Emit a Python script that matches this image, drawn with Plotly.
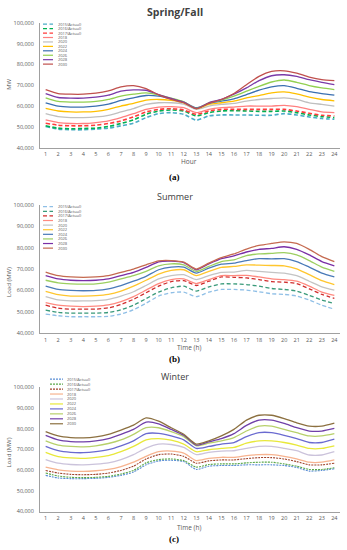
import plotly.graph_objects as go

W, H = 347, 550
hours = list(range(1, 25))
series_names = ["2015(Actual)", "2016(Actual)", "2017(Actual)", "2018", "2020",
                "2022", "2024", "2026", "2028", "2030"]

# ---------------- Spring/Fall ----------------
sf_2015 = [50260, 49000, 48680, 48680, 49000, 49470, 50580, 51840, 54520, 56420, 56900, 56100,
           53260, 55320, 55790, 55790, 55790, 55630, 55630, 56420, 55790, 54840, 54050, 53740]
sf_2016 = [50580, 49470, 49160, 49310, 49470, 50260, 51680, 53420, 56100, 57680, 58160, 57680,
           55320, 56890, 57680, 57840, 57680, 57520, 57520, 57680, 56890, 55790, 55000, 54520]
sf_2017 = [51840, 50890, 50580, 50580, 50890, 51680, 52940, 54840, 57210, 58470, 58790, 58160,
           56100, 57680, 58470, 58470, 58470, 58470, 58470, 58470, 57680, 56580, 55630, 55320]
sf_2018 = [53420, 52150, 51680, 51680, 52150, 52940, 54520, 56420, 58470, 59580, 59740, 59260,
           56890, 58470, 59260, 59580, 60050, 60050, 60050, 60370, 59740, 58470, 57210, 56890]
sf_2020 = [56420, 55000, 54520, 54520, 54840, 55630, 57210, 58790, 60840, 61630, 61630, 61000,
           58470, 60050, 60840, 61310, 62420, 63200, 63680, 64000, 63200, 61630, 60840, 60050]
sf_2022 = [58950, 57680, 57210, 57210, 57520, 58470, 60050, 61310, 62890, 63200, 62730, 61630,
           58790, 60840, 61630, 62420, 64000, 65100, 66370, 66840, 65900, 64310, 63200, 62580]
sf_2024 = [61630, 60050, 59580, 59580, 60050, 61000, 62740, 64000, 65100, 64790, 63520, 61940,
           59260, 61310, 62420, 63520, 65580, 67630, 69210, 69840, 68580, 67000, 66050, 65260]
sf_2026 = [64000, 62260, 61950, 61950, 62260, 63200, 64790, 65740, 66370, 65420, 63840, 62100,
           58950, 61630, 62890, 64790, 67160, 69530, 71580, 72530, 71420, 69840, 68740, 67950]
sf_2028 = [66050, 64150, 63840, 63840, 64310, 65260, 67160, 67790, 67630, 65580, 63680, 61940,
           58790, 61630, 63200, 65740, 68740, 72210, 74580, 75050, 74260, 72680, 71420, 70300]
sf_2030 = [67950, 66050, 65740, 65740, 66200, 67300, 69200, 69850, 68420, 65420, 63200, 61630,
           58790, 61310, 63200, 66050, 70300, 74260, 76630, 76950, 75840, 73950, 72680, 72210]

# ---------------- Summer ----------------
su_2015 = [48920, 48150, 47690, 47690, 47690, 47850, 48920, 50920, 54000, 57380, 58920, 59230,
           57080, 59230, 60460, 60460, 60150, 59380, 58460, 58150, 57380, 55540, 53080, 51230]
su_2016 = [50770, 49690, 49380, 49380, 49380, 49690, 50920, 53080, 56150, 59230, 61230, 62000,
           59690, 61690, 63080, 63080, 62770, 62000, 60920, 60460, 59690, 57690, 55540, 53850]
su_2017 = [53080, 51690, 51230, 51230, 51230, 51850, 53380, 55850, 58920, 62000, 64150, 64620,
           62310, 64310, 66310, 66150, 65850, 65080, 64150, 63850, 63230, 60770, 58150, 56310]
su_2018 = [54310, 53080, 52620, 52460, 52620, 53230, 54770, 57080, 60150, 63230, 65080, 65380,
           63230, 65080, 66920, 66920, 67080, 66310, 65380, 65080, 64310, 62000, 59230, 57690]
su_2020 = [57080, 55540, 55080, 55080, 55230, 55850, 57380, 59380, 62310, 65380, 66920, 67380,
           65080, 66920, 68460, 68620, 69380, 68920, 68460, 68150, 66920, 64310, 61690, 60150]
su_2022 = [59540, 58000, 57380, 57380, 57540, 58150, 59690, 62000, 64770, 67690, 69380, 69690,
           66920, 68920, 70770, 71230, 72000, 71850, 71690, 71540, 70150, 67380, 64620, 62770]
su_2024 = [62000, 60460, 60000, 59850, 60000, 60770, 62310, 64310, 66620, 69690, 70920, 70920,
           68150, 70460, 72310, 72770, 74000, 74920, 74770, 74920, 73540, 70920, 68150, 66310]
su_2026 = [64770, 63540, 63080, 62920, 63080, 63850, 65380, 66920, 68920, 71540, 72460, 72000,
           68920, 71230, 73540, 74310, 76310, 77080, 77380, 77690, 76620, 74000, 70920, 68920]
su_2028 = [66920, 65380, 64770, 64620, 64770, 65380, 66920, 68460, 70770, 73380, 73690, 73080,
           69690, 72460, 74920, 76150, 78000, 79230, 79690, 80460, 79230, 76620, 73540, 71540]
su_2030 = [68620, 66920, 66310, 66150, 66310, 66920, 68460, 70000, 72000, 73850, 74000, 73230,
           70000, 72770, 75380, 77080, 79380, 81080, 82000, 82770, 82000, 79230, 75850, 73540]

# ---------------- Winter ----------------
wi_2015 = [57470, 56200, 55880, 55880, 56040, 56520, 57470, 59060, 62550, 64450, 64770, 64130,
           60330, 61910, 62230, 62230, 62550, 62550, 62550, 62230, 61280, 59530, 59850, 60640]
wi_2016 = [58580, 57150, 56520, 56360, 56520, 56990, 58100, 59850, 63500, 65090, 65400, 64610,
           61440, 62710, 63020, 63020, 63500, 63820, 63820, 63020, 61910, 60330, 60330, 61120]
wi_2017 = [59850, 58580, 57950, 57790, 57950, 58580, 59850, 61910, 65400, 67470, 67780, 66670,
           63340, 64450, 64930, 64930, 65560, 66040, 66040, 65400, 64130, 62550, 62550, 63340]
wi_2018 = [61440, 60170, 59530, 59370, 59690, 60330, 61750, 63820, 66670, 68890, 69210, 68260,
           64610, 65720, 66200, 66200, 66990, 67470, 67470, 66670, 65400, 63820, 63820, 64930]
wi_2020 = [65090, 63340, 62710, 62550, 62870, 63500, 65090, 67470, 70640, 72550, 72390, 70960,
           67470, 68580, 69210, 69370, 70480, 71430, 71430, 70480, 69370, 67310, 67310, 68890]
wi_2022 = [68580, 66510, 65880, 65720, 66200, 66990, 68890, 71430, 74610, 75240, 74450, 72540,
           68890, 69850, 70480, 70960, 73020, 74130, 74130, 73340, 72070, 70480, 70480, 71750]
wi_2024 = [71430, 69370, 68580, 68420, 68890, 69850, 71750, 74130, 77620, 77780, 76510, 74610,
           70480, 71430, 72540, 73340, 76190, 78100, 78100, 76830, 75240, 73340, 73340, 74930]
wi_2026 = [74130, 72070, 71430, 71270, 71750, 72860, 74610, 77310, 80480, 80480, 78580, 76190,
           71750, 73020, 74130, 75720, 78890, 81270, 81270, 79690, 78100, 76510, 76510, 77620]
wi_2028 = [76830, 74610, 73810, 73650, 74130, 75240, 77310, 79690, 83180, 82380, 79690, 76830,
           72070, 73650, 75240, 77620, 81590, 84130, 84130, 82540, 80480, 78890, 78890, 80160]
wi_2030 = [78575, 76510, 75720, 75560, 76040, 77310, 79370, 81750, 85240, 83650, 80480, 77310,
           72550, 74130, 76510, 79690, 84130, 86510, 86510, 84920, 82860, 81270, 81270, 82700]

sf_colors = ["#4bacc6", "#00b050", "#ff3b3b", "#ff8080", "#bfbfbf", "#ffc000",
             "#3a6fb0", "#92d050", "#7a3aa8", "#c0504d"]
su_colors = ["#8fbfe6", "#3a9a7a", "#d02c2c", "#ff8a80", "#c4c4c4", "#ffc62e",
             "#4a7ab8", "#9ccf60", "#7a2fa6", "#c56a50"]
wi_colors = ["#5b8fd5", "#5ca84a", "#a0442c", "#f7b38f", "#cbc3db", "#e8e83a",
             "#6a6ad0", "#b7d06a", "#7040a8", "#8c7040"]

panels = [
    dict(name="Spring/Fall", data=[sf_2015, sf_2016, sf_2017, sf_2018, sf_2020, sf_2022,
                                   sf_2024, sf_2026, sf_2028, sf_2030],
         colors=sf_colors, dash="4px,2.5px", dw=1.6, top=19, bot=146,
         title_y=8, title_size=10.5, ytitle="MW", ytitle_y=82, xtitle="Hour", xtitle_y=159.5,
         label="(a)", label_y=176, leg=(43, 53, 56, 20.5, 4.5)),
    dict(name="Summer", data=[su_2015, su_2016, su_2017, su_2018, su_2020, su_2022,
                              su_2024, su_2026, su_2028, su_2030],
         colors=su_colors, dash="4px,2.5px", dw=1.3, top=204, bot=334,
         title_y=195, title_size=9, ytitle="Load (MW)", ytitle_y=282, xtitle="Time (h)", xtitle_y=348.5,
         label="(b)", label_y=360, leg=(43, 53, 56, 205.7, 4.67)),
    dict(name="Winter", data=[wi_2015, wi_2016, wi_2017, wi_2018, wi_2020, wi_2022,
                              wi_2024, wi_2026, wi_2028, wi_2030],
         colors=wi_colors, dash="2px,1px", dw=1.1, top=389, bot=515,
         title_y=378, title_size=9, ytitle="Load (MW)", ytitle_y=455, xtitle="Time (h)", xtitle_y=531,
         label="(c)", label_y=543, leg=(50, 63, 65, 380.7, 5.03)),
]

fig = go.Figure()
shapes, annotations = [], []
FONT = "Open Sans"
GRAY = "#595959"


def px_x(v):
    return v / W


def px_y(v):
    return 1 - v / H


layout = {}
for i, p in enumerate(panels):
    ax = "" if i == 0 else str(i + 1)
    for j, (nm, vals) in enumerate(zip(series_names, p["data"])):
        actual = j < 3
        fig.add_trace(go.Scatter(
            x=hours, y=vals, mode="lines", name=nm, showlegend=False, hoverinfo="skip",
            line=dict(color=p["colors"][j], width=p["dw"] if actual else 1.3,
                      dash=p["dash"] if actual else "solid", shape="spline", smoothing=0.6),
            xaxis="x" + ax, yaxis="y" + ax))
    layout["xaxis" + ax] = dict(
        domain=[px_x(40), px_x(340)], range=[0.55, 24.45], anchor="y" + ax,
        tickmode="array", tickvals=hours, ticktext=[str(h) for h in hours],
        showgrid=False, zeroline=False, showline=True, linecolor="#a0a0a0", linewidth=1,
        ticks="", tickfont=dict(size=5.5, color=GRAY, family=FONT), ticklabelstandoff=1,
        fixedrange=True)
    layout["yaxis" + ax] = dict(
        domain=[px_y(p["bot"]), px_y(p["top"])], range=[40000, 100000], anchor="x" + ax,
        tickmode="array", tickvals=list(range(40000, 100001, 10000)), tickformat=",",
        showgrid=False, zeroline=False, showline=True, linecolor="#a0a0a0", linewidth=1,
        ticks="", tickfont=dict(size=5.5, color=GRAY, family=FONT), ticklabelstandoff=4,
        fixedrange=True)
    # titles / labels
    annotations.append(dict(text=("<b>%s</b>" % p["name"]) if i == 0 else p["name"],
                            x=px_x(175), y=px_y(p["title_y"]), xref="paper", yref="paper",
                            showarrow=False, font=dict(size=p["title_size"], color="#404040", family=FONT),
                            xanchor="center", yanchor="middle"))
    annotations.append(dict(text=p["ytitle"], x=px_x(9), y=px_y(p["ytitle_y"]), xref="paper", yref="paper",
                            showarrow=False, textangle=-90, font=dict(size=6, color=GRAY, family=FONT),
                            xanchor="center", yanchor="middle"))
    annotations.append(dict(text=p["xtitle"], x=px_x(189), y=px_y(p["xtitle_y"]), xref="paper", yref="paper",
                            showarrow=False, font=dict(size=6.5, color=GRAY, family=FONT),
                            xanchor="center", yanchor="middle"))
    annotations.append(dict(text="<b>%s</b>" % p["label"], x=px_x(174), y=px_y(p["label_y"]),
                            xref="paper", yref="paper", showarrow=False,
                            font=dict(size=9, color="#000000", family="Liberation Serif"),
                            xanchor="center", yanchor="middle"))
    # compact legend
    kx0, kx1, tx, y0, dy = p["leg"]
    for j, nm in enumerate(series_names):
        yy = y0 + j * dy
        actual = j < 3
        shapes.append(dict(type="line", xref="paper", yref="paper",
                           x0=px_x(kx0), x1=px_x(kx1), y0=px_y(yy), y1=px_y(yy),
                           line=dict(color=p["colors"][j], width=1.2,
                                     dash=p["dash"] if actual else "solid")))
        annotations.append(dict(text=nm, x=px_x(tx), y=px_y(yy), xref="paper", yref="paper",
                                showarrow=False, xanchor="left", yanchor="middle",
                                font=dict(size=4, color=GRAY, family=FONT)))

fig.update_layout(
    width=W, height=H, margin=dict(l=0, r=0, t=0, b=0),
    paper_bgcolor="white", plot_bgcolor="white", showlegend=False, hovermode=False,
    shapes=shapes, annotations=annotations, **layout)

fig.write_html("out.html", config={"displayModeBar": False, "staticPlot": True},
               post_script="document.body.style.margin='0';document.body.style.overflow='hidden';")
